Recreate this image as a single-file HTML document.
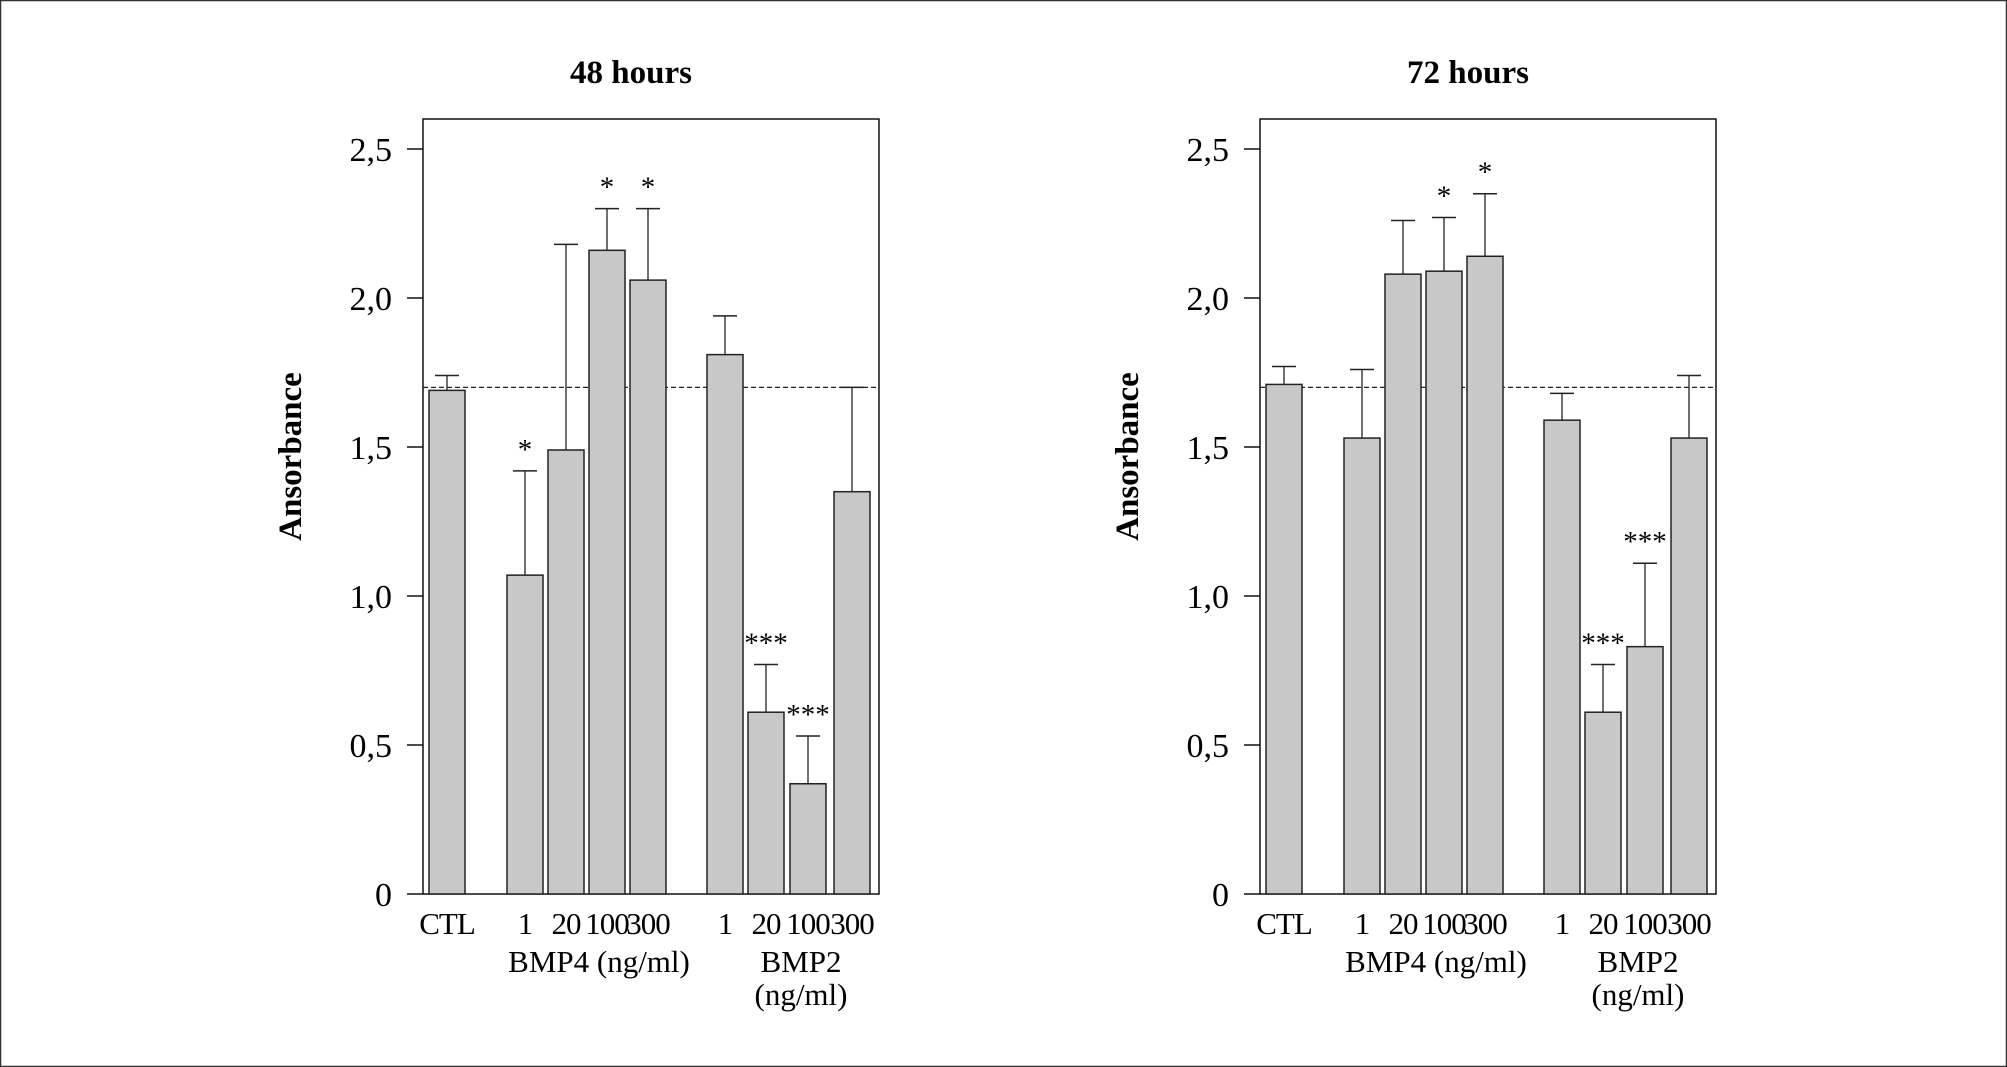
<!DOCTYPE html>
<html><head><meta charset="utf-8"><style>
html,body{margin:0;padding:0;background:#fff;}
svg{display:block;font-family:"Liberation Serif",serif;}
</style></head><body>
<svg id="chart" width="2007" height="1067" viewBox="0 0 2007 1067" xmlns="http://www.w3.org/2000/svg">
<rect x="0.5" y="0.5" width="2006" height="1066" fill="#fff" stroke="#333" stroke-width="1.5"/>
<g id="panels"></g>
</svg>
<script>
const categories = ["CTL","1","20","100","300","1","20","100","300"];
const yTicks = [0,0.5,1.0,1.5,2.0,2.5];
const yTickLabels = ["0","0,5","1,0","1,5","2,0","2,5"];
const means48 = [1.69,1.07,1.49,2.16,2.06,1.81,0.61,0.37,1.35];
const errTop48 = [1.74,1.42,2.18,2.30,2.30,1.94,0.77,0.53,1.70];
const stars48 = ["","*","","*","*","","***","***",""];
const means72 = [1.71,1.53,2.08,2.09,2.14,1.59,0.61,0.83,1.53];
const errTop72 = [1.77,1.76,2.26,2.27,2.35,1.68,0.77,1.11,1.74];
const stars72 = ["","","","*","*","","***","***",""];
const reference = 1.70;
const panelTitles = ["48 hours","72 hours"];

const NS="http://www.w3.org/2000/svg";
const root=document.getElementById('panels');
function mk(tag,attrs,parent){const e=document.createElementNS(NS,tag);for(const k in attrs)e.setAttribute(k,attrs[k]);(parent||root).appendChild(e);return e;}
const barOffsets=[6,84,125,166,207,284,325,367,411];
function drawPanel(ox,title,means,errs,stars,idx){
  const g=mk('g',{});
  
  
  const fx=ox, fw=456, ft=119, fb=894;
  const y=v=>fb-298*v;
  const t=mk('text',{x:fx+208,y:83,'text-anchor':'middle','font-size':33,'font-weight':'bold'},g);
  t.textContent=title;
  
  
  const fr=mk('rect',{x:fx,y:ft,width:fw,height:fb-ft,fill:'none',stroke:'#111','stroke-width':1.5},g);
  
  
  yTicks.forEach((v,i)=>{
    const tk=mk('line',{x1:fx-16,x2:fx,y1:y(v),y2:y(v),stroke:'#111','stroke-width':1.5},g);
    
    
    const tl=mk('text',{x:fx-31,y:y(v)+12,'text-anchor':'end','font-size':34},g);
    tl.textContent=yTickLabels[i];
    
    
  });
  const yt=mk('text',{transform:`translate(${fx-122},${(ft+fb)/2-50}) rotate(-90)`,'text-anchor':'middle','font-size':33,'font-weight':'bold'},g);
  yt.textContent='Ansorbance';
  
  
  const dl=mk('line',{x1:fx,x2:fx+fw,y1:y(reference),y2:y(reference),stroke:'#222','stroke-width':1.2,'stroke-dasharray':'5,3'},g);
  
  
  const bw=36;
  means.forEach((m,i)=>{
    const bx=fx+barOffsets[i], cx=bx+bw/2;
    const b=mk('rect',{x:bx,y:y(m),width:bw,height:fb-y(m),fill:'#c8c8c8',stroke:'#222','stroke-width':1.5},g);
    
    
    const e1=mk('line',{x1:cx,x2:cx,y1:y(m),y2:y(errs[i]),stroke:'#222','stroke-width':1.3},g);
    
    
    const e2=mk('line',{x1:cx-12,x2:cx+12,y1:y(errs[i]),y2:y(errs[i]),stroke:'#222','stroke-width':1.5},g);
    
    
    if(stars[i]){
      const s=mk('text',{x:cx,y:y(errs[i])-12,'text-anchor':'middle','font-size':29},g);
      s.textContent=stars[i];
      
      
    }
    const xl=mk('text',{x:cx,y:934,'text-anchor':'middle','font-size':31,'letter-spacing':'-1'},g);
    xl.textContent=categories[i];
    
    
  });
  const l1=mk('text',{x:fx+176,y:972,'text-anchor':'middle','font-size':31},g);
  l1.textContent='BMP4 (ng/ml)';
  
  
  const l2=mk('text',{x:fx+378,y:972,'text-anchor':'middle','font-size':31},g);
  l2.textContent='BMP2';
  
  
  const l3=mk('text',{x:fx+378,y:1005,'text-anchor':'middle','font-size':31},g);
  l3.textContent='(ng/ml)';
  
  
}
drawPanel(423,panelTitles[0],means48,errTop48,stars48,0);
drawPanel(1260,panelTitles[1],means72,errTop72,stars72,1);
</script>
</body></html>
